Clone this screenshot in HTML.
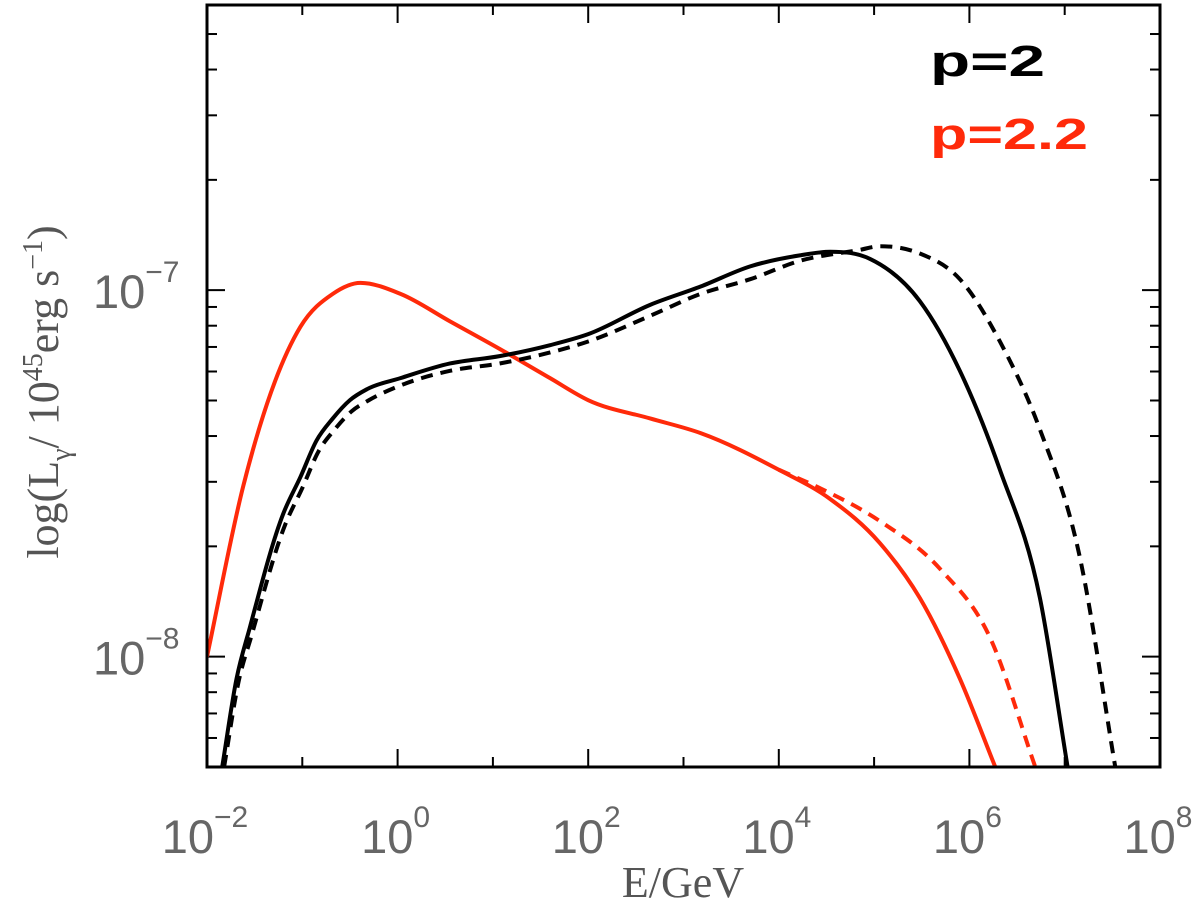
<!DOCTYPE html>
<html><head><meta charset="utf-8"><style>
html,body{margin:0;padding:0;background:#fff;}
svg{display:block;}
.tk{font-family:"Liberation Sans",sans-serif;font-size:47px;fill:#666;font-weight:normal;}
.sup{font-size:30px;}
.ttl{font-family:"Liberation Serif",serif;font-size:44px;fill:#555;}
.sup2{font-size:28px;}
.leg{font-family:"Liberation Sans",sans-serif;font-weight:bold;font-size:44px;}
</style></head><body>
<svg id="chart" width="1200" height="911" viewBox="0 0 1200 911">
<defs><clipPath id="clip"><rect x="207" y="5" width="953" height="762"/></clipPath></defs>
<g id="axes"></g>
<g id="series" clip-path="url(#clip)"></g>
<rect x="207" y="5" width="953" height="762" fill="none" stroke="#000" stroke-width="3"/>
<text class="leg" x="930" y="76" fill="#000" textLength="115" lengthAdjust="spacingAndGlyphs">p=2</text>
<text class="leg" x="930" y="149" fill="#ff2a0a" textLength="158" lengthAdjust="spacingAndGlyphs">p=2.2</text>
<text class="ttl" x="683" y="897" text-anchor="middle">E/GeV</text>
<text class="ttl" transform="translate(58,392) rotate(-90)" text-anchor="middle">log(L<tspan class="sup2" dy="12">γ</tspan><tspan dy="-12">/ 10</tspan><tspan class="sup2" dy="-16">45</tspan><tspan dy="16">erg s</tspan><tspan class="sup2" dy="-16">−1</tspan><tspan dy="16">)</tspan></text>
</svg>
<script>
// data in log10 units
const xDomain = [-2, 8];
const yDomain = [Math.log10(5e-9), Math.log10(6e-7)];
const xTickDecades = [-2, 0, 2, 4, 6, 8];
const yTickDecades = [-8, -7];
const redSolidE = [-2,-1.62,-1.37,-1.02,-0.68,-0.39,0.03,0.55,1.07,1.6,2,2.65,3.18,4,4.54,5.06,5.48,5.9,6.27];
const redSolidL = [-8,-7.535,-7.31,-7.10,-7.01,-6.98,-7.01,-7.085,-7.16,-7.24,-7.30,-7.35,-7.39,-7.49,-7.57,-7.69,-7.84,-8.06,-8.30];
const redDashE = [4,4.43,5.06,5.69,6.22,6.69];
const redDashL = [-7.49,-7.54,-7.63,-7.76,-7.95,-8.30];
const blackSolidE = [-1.84,-1.69,-1.55,-1.2,-1.02,-0.85,-0.68,-0.5,-0.32,0.03,0.55,1.07,1.6,2,2.65,3.18,3.7,4.22,4.54,4.96,5.48,5.9,6.32,6.74,7.03];
const blackSolidL = [-8.30,-8.06,-7.92,-7.61,-7.51,-7.41,-7.35,-7.30,-7.27,-7.24,-7.20,-7.18,-7.15,-7.12,-7.04,-6.99,-6.935,-6.905,-6.895,-6.915,-7.03,-7.22,-7.49,-7.84,-8.30];
const blackDashE = [-1.82,-1.67,-1.53,-1.18,-1.0,-0.83,-0.66,-0.48,-0.3,0.03,0.55,1.07,1.6,2,2.65,3.18,3.7,4.22,4.85,5.06,5.48,5.9,6.32,6.74,7.16,7.53];
const blackDashL = [-8.30,-8.07,-7.94,-7.64,-7.54,-7.44,-7.38,-7.33,-7.30,-7.26,-7.22,-7.20,-7.17,-7.14,-7.07,-7.01,-6.97,-6.92,-6.89,-6.88,-6.90,-6.97,-7.14,-7.38,-7.73,-8.30];

const X0=207,X1=1160,Y0=767,Y1=5;
const sx=v=>X0+(v-xDomain[0])/(xDomain[1]-xDomain[0])*(X1-X0);
const sy=v=>Y0-(v-yDomain[0])/(yDomain[1]-yDomain[0])*(Y0-Y1);
const NS="http://www.w3.org/2000/svg";
const axes=document.getElementById('axes'), series=document.getElementById('series');
function mk(tag,attrs,parent){const e=document.createElementNS(NS,tag);for(const k in attrs)e.setAttribute(k,attrs[k]);parent.appendChild(e);return e;}
function line(x1,y1,x2,y2){return mk('line',{x1,y1,x2,y2,stroke:'#000','stroke-width':2},axes);}
for(let d=Math.ceil(xDomain[0]);d<=xDomain[1];d++){
  const x=sx(d), len=(xTickDecades.includes(d))?18:10;
  const t1=line(x,Y0,x,Y0-len);
  
  
  line(x,Y1,x,Y1+len);
}
xTickDecades.forEach(d=>{
  const t=mk('text',{class:'tk',x:sx(d)-2,y:853,'text-anchor':'middle'},axes);
  
  
  t.innerHTML='10<tspan class="sup" dy="-26">'+(d<0?'−'+(-d):d)+'</tspan>';
});
for(let d=-9;d<=-6;d++){
  for(let m=1;m<10;m++){
    const v=d+Math.log10(m);
    if(v<yDomain[0]||v>yDomain[1])continue;
    const y=sy(v), len=(m===1)?18:10;
    const t=line(X0,y,X0+len,y);
    
    
    line(X1,y,X1-len,y);
  }
}
yTickDecades.forEach(d=>{
  const t=mk('text',{class:'tk',x:93,y:sy(d)+18},axes);
  
  
  t.innerHTML='10<tspan class="sup" dy="-26">−'+(-d)+'</tspan>';
});
function pathD(E,L){
  const p=E.map((e,i)=>[sx(e),sy(L[i])]);
  const n=p.length, m=[], s=[];
  for(let i=0;i<n-1;i++)s.push((p[i+1][1]-p[i][1])/(p[i+1][0]-p[i][0]));
  for(let i=0;i<n;i++){
    if(i===0)m.push(s[0]);else if(i===n-1)m.push(s[n-2]);
    else if(s[i-1]*s[i]<=0)m.push(0);
    else{const h0=p[i][0]-p[i-1][0],h1=p[i+1][0]-p[i][0];m.push((s[i-1]*h1+s[i]*h0)/(h0+h1));
      const lim=3*Math.min(Math.abs(s[i-1]),Math.abs(s[i]));if(Math.abs(m[i])>lim)m[i]=Math.sign(m[i])*lim;}
  }
  let d='M'+p[0][0]+','+p[0][1];
  for(let i=0;i<n-1;i++){
    const h=(p[i+1][0]-p[i][0])/3;
    d+=' C'+(p[i][0]+h)+','+(p[i][1]+m[i]*h)+' '+(p[i+1][0]-h)+','+(p[i+1][1]-m[i+1]*h)+' '+p[i+1][0]+','+p[i+1][1];
  }
  return d;
}
function draw(E,L,color,dash,name){
  const p=mk('path',{d:pathD(E,L),fill:'none',stroke:color,'stroke-width':4,'stroke-dasharray':dash?'12,8':'none'},series);
  
  
}
draw(redDashE,redDashL,'#ff2a0a',true,'red-dashed-curve');
draw(redSolidE,redSolidL,'#ff2a0a',false,'red-solid-curve');
draw(blackDashE,blackDashL,'#000',true,'black-dashed-curve');
draw(blackSolidE,blackSolidL,'#000',false,'black-solid-curve');
</script>
</body></html>
